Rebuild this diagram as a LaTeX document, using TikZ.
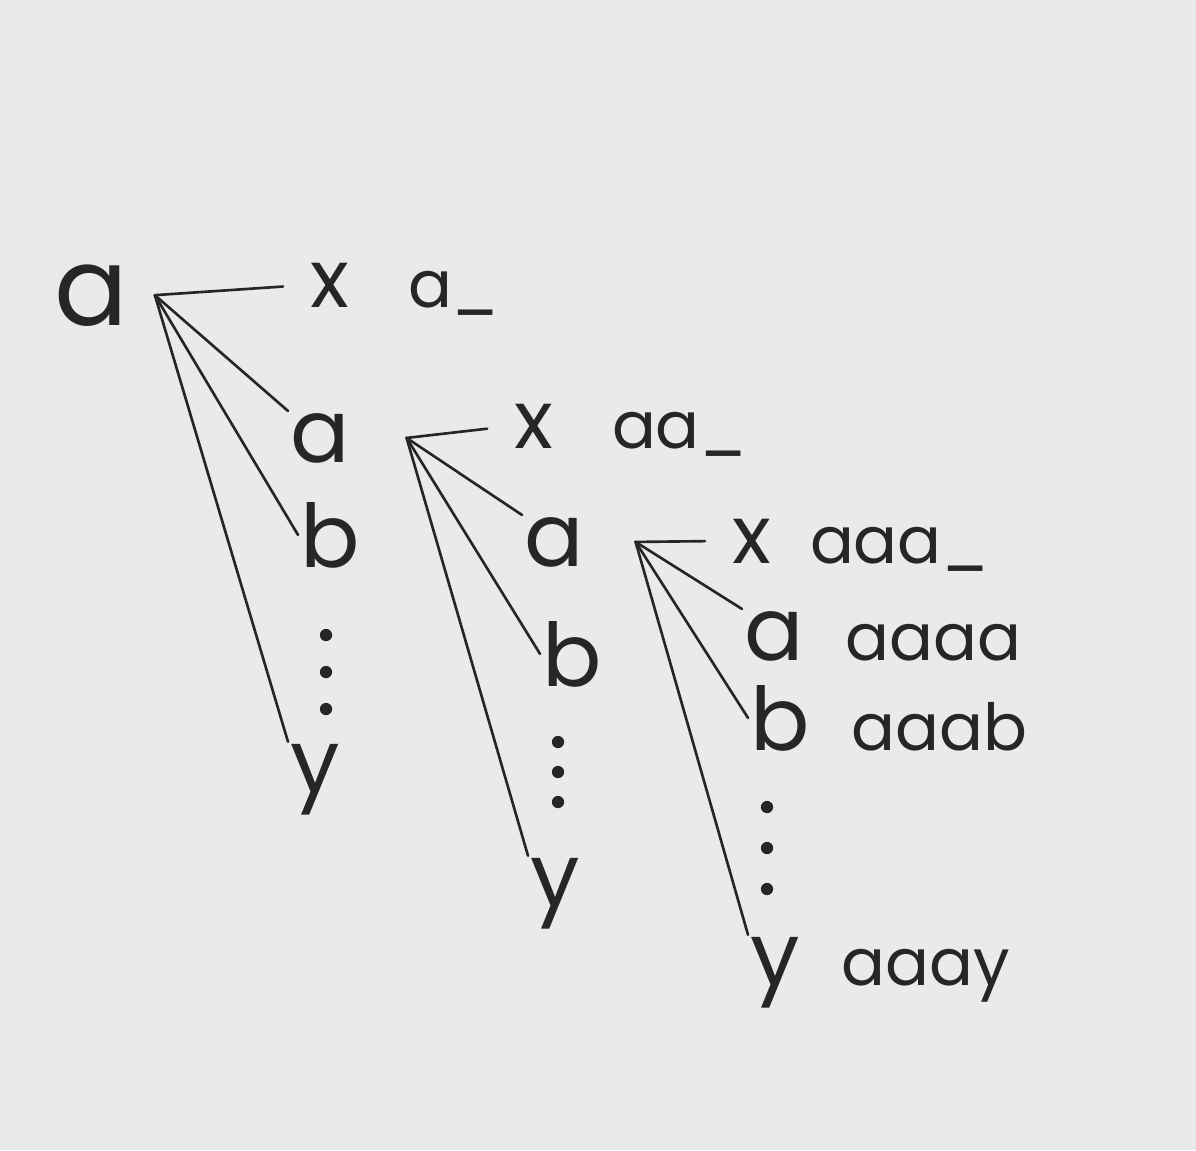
\documentclass[tikz,border=0pt]{standalone}
\usepackage{fontspec}
\setmainfont{Poppins}
\usetikzlibrary{positioning}
\definecolor{Papier}{RGB}{234,234,234}
\definecolor{Encre}{RGB}{38,38,38}
\tikzset{racine/.style={anchor=base west, inner sep=1pt, text=Encre,
  font=\fontsize{62}{62}\selectfont}}
\tikzset{lettre/.style={racine, font=\fontsize{50}{50}\selectfont}}
\tikzset{croix/.style={racine, font=\fontsize{46}{46}\selectfont}}
\tikzset{mot/.style={racine, font=\fontsize{37}{37}\selectfont}}
\tikzset{br/.style={draw=Encre, line width=1.5pt, line cap=round}}
\tikzset{trait/.style={br, shorten >=0.5cm}}
\tikzset{pt/.style={fill=Encre}}

\begin{document}
\begin{tikzpicture}[x=0.02cm, y=-0.02cm]
\fill[Papier] (0,0) rectangle (1196,1150);
\useasboundingbox (0,0) rectangle (1196,1150);
% niveau 0
\node[racine] (r) at (52,325) {a};
\node[croix] (x0) at (308,307) {x};
\node[mot, right=1.1cm of x0.base east, anchor=base west] (m0) {a\_};
\node[lettre] (a1) at (288,462) {a};
\node[lettre] (b1) at (298,567) {b};
\node[lettre] (y1) at (288,792) {y};
\foreach \k in {0,1,2} \fill[pt] (326,635+37*\k) circle[radius=3.5pt];
\coordinate (h0) at ([xshift=0.5cm]r.east);
\draw[trait] (h0) -- (x0.west);
\draw[br] (h0) -- (a1.north west);
\draw[br] (h0) -- (b1.west);
\draw[br] (h0) -- (y1.north west);
% niveau 1
\node[croix] (x1) at (512,448) {x};
\node[mot, right=1.1cm of x1.base east, anchor=base west] (m1) {aa\_};
\node[lettre] (a2) at (522,566) {a};
\node[lettre] (b2) at (540,686) {b};
\node[lettre] (y2) at (528,906) {y};
\foreach \k in {0,1,2} \fill[pt] (558,742+30*\k) circle[radius=3.5pt];
\coordinate (h1) at ([xshift=1.1cm]a1.east);
\draw[trait] (h1) -- (x1.west);
\draw[br] (h1) -- (a2.north west);
\draw[br] (h1) -- (b2.west);
\draw[br] (h1) -- (y2.north west);
% niveau 2
\node[croix] (x2) at (730,563) {x};
\node[mot, right=0.7cm of x2.base east, anchor=base west] (m2) {aaa\_};
\node[lettre] (a3) at (742,660) {a};
\node[mot, right=0.75cm of a3.base east, anchor=base west] (m3) {aaaa};
\node[lettre] (b3) at (748,750) {b};
\node[mot, right=0.75cm of b3.base east, anchor=base west] (m4) {aaab};
\node[lettre] (y3) at (748,985) {y};
\node[mot, right=0.75cm of y3.base east, anchor=base west] (m5) {aaay};
\foreach \k in {0,1,2} \fill[pt] (767,807+41*\k) circle[radius=3.5pt];
\coordinate (h2) at ([xshift=1.0cm]a2.east);
\draw[trait] (h2) -- (x2.west);
\draw[br] (h2) -- (a3.north west);
\draw[br] (h2) -- (b3.west);
\draw[br] (h2) -- (y3.north west);
\end{tikzpicture}
\end{document}
